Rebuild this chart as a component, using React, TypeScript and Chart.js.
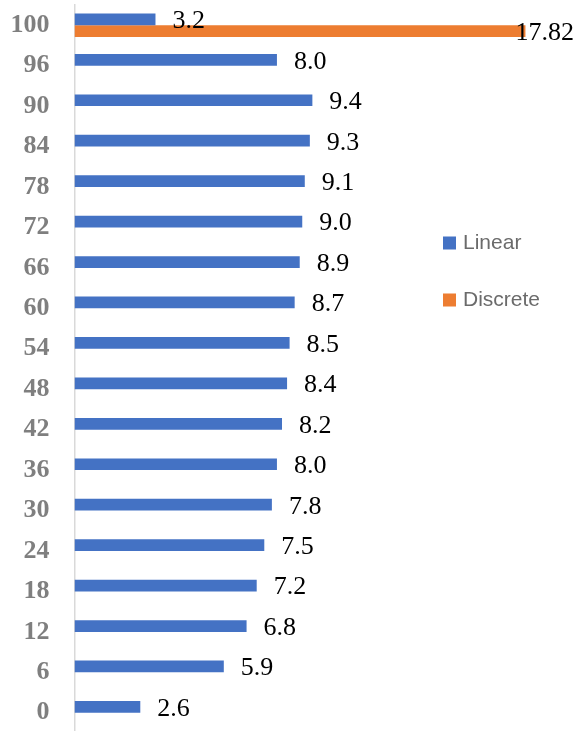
import { useEffect, useRef } from 'react';
import { Chart, registerables } from 'chart.js';

Chart.register(...registerables);

// Categories listed top to bottom
const categories = ['100', '96', '90', '84', '78', '72', '66', '60', '54', '48', '42', '36', '30', '24', '18', '12', '6', '0'];
const linearValues = [3.2, 8.0, 9.4, 9.3, 9.1, 9.0, 8.9, 8.7, 8.5, 8.4, 8.2, 8.0, 7.8, 7.5, 7.2, 6.8, 5.9, 2.6];
const discreteValues: (number | null)[] = [17.82, null, null, null, null, null, null, null, null, null, null, null, null, null, null, null, null, null];
const seriesNames = ['Linear', 'Discrete'];
const seriesDecimals = [1, 2];

const BLUE = '#4472C4';
const ORANGE = '#ED7D31';

const valueLabels = {
  id: 'valueLabels',
  afterDatasetsDraw(chart: any) {
    const ctx = chart.ctx;
    ctx.save();
    ctx.font = '26px "Liberation Serif"';
    ctx.fillStyle = '#000000';
    ctx.textBaseline = 'middle';
    ctx.textAlign = 'left';
    chart.data.datasets.forEach((ds: any, i: number) => {
      const meta = chart.getDatasetMeta(i);
      meta.data.forEach((bar: any, j: number) => {
        const v = ds.data[j];
        if (v == null) return;
        const text = Number(v).toFixed(seriesDecimals[i]);
        const w = ctx.measureText(text).width;
        // keep labels inside the canvas on the right
        const x = Math.min(bar.x + 17, chart.width - 6 - w);
        ctx.fillText(text, x, bar.y + 2);
      });
    });
    ctx.restore();
  },
};

const sideLegend = {
  id: 'sideLegend',
  afterDraw(chart: any) {
    const ctx = chart.ctx;
    const left = 443;
    const top = 243;
    const gap = 57;
    const box = 13;
    ctx.save();
    ctx.font = '21px "Liberation Sans"';
    ctx.textBaseline = 'middle';
    ctx.textAlign = 'left';
    chart.data.datasets.forEach((ds: any, i: number) => {
      const cy = top + i * gap;
      ctx.fillStyle = ds.backgroundColor;
      ctx.fillRect(left, cy - box / 2, box, box);
      ctx.fillStyle = '#6b6b6b';
      ctx.fillText(ds.label, left + 20, cy);
    });
    ctx.restore();
  },
};

export default function App() {
  const canvasRef = useRef<HTMLCanvasElement | null>(null);

  useEffect(() => {
    const canvas = canvasRef.current;
    if (!canvas) return;
    const chart = new Chart(canvas, {
      type: 'bar',
      data: {
        labels: categories,
        datasets: [
          { label: seriesNames[0], data: linearValues, backgroundColor: BLUE, borderWidth: 0 },
          { label: seriesNames[1], data: discreteValues as any, backgroundColor: ORANGE, borderWidth: 0 },
        ],
      },
      options: {
        indexAxis: 'y',
        responsive: false,
        animation: false,
        devicePixelRatio: 1,
        categoryPercentage: 0.58,
        barPercentage: 1,
        layout: { padding: { left: 0, right: 50, top: 5, bottom: 3 } },
        plugins: {
          legend: { display: false },
          tooltip: { enabled: false },
        },
        scales: {
          x: {
            display: false,
            min: 0,
            max: 18,
          },
          y: {
            afterFit(scale: any) {
              scale.width = 74.5;
              // tick padding is meant for the horizontal gap only
              scale.paddingTop = 0;
              scale.paddingBottom = 0;
            },
            grid: { display: false, drawTicks: false },
            border: { display: true, color: '#d9d9d9', width: 1.5 },
            ticks: {
              padding: 25,
              color: '#7f7f7f',
              font: { family: '"Liberation Serif"', size: 26, weight: 'bold' },
            },
          },
        },
      } as any,
      plugins: [valueLabels, sideLegend],
    });
    return () => chart.destroy();
  }, []);

  return (
    <div style={{ position: 'fixed', left: 0, top: 0, width: 580, height: 731, overflow: 'hidden', background: '#ffffff' }}>
      <canvas ref={canvasRef} width={580} height={736} style={{ display: 'block' }} />
    </div>
  );
}
